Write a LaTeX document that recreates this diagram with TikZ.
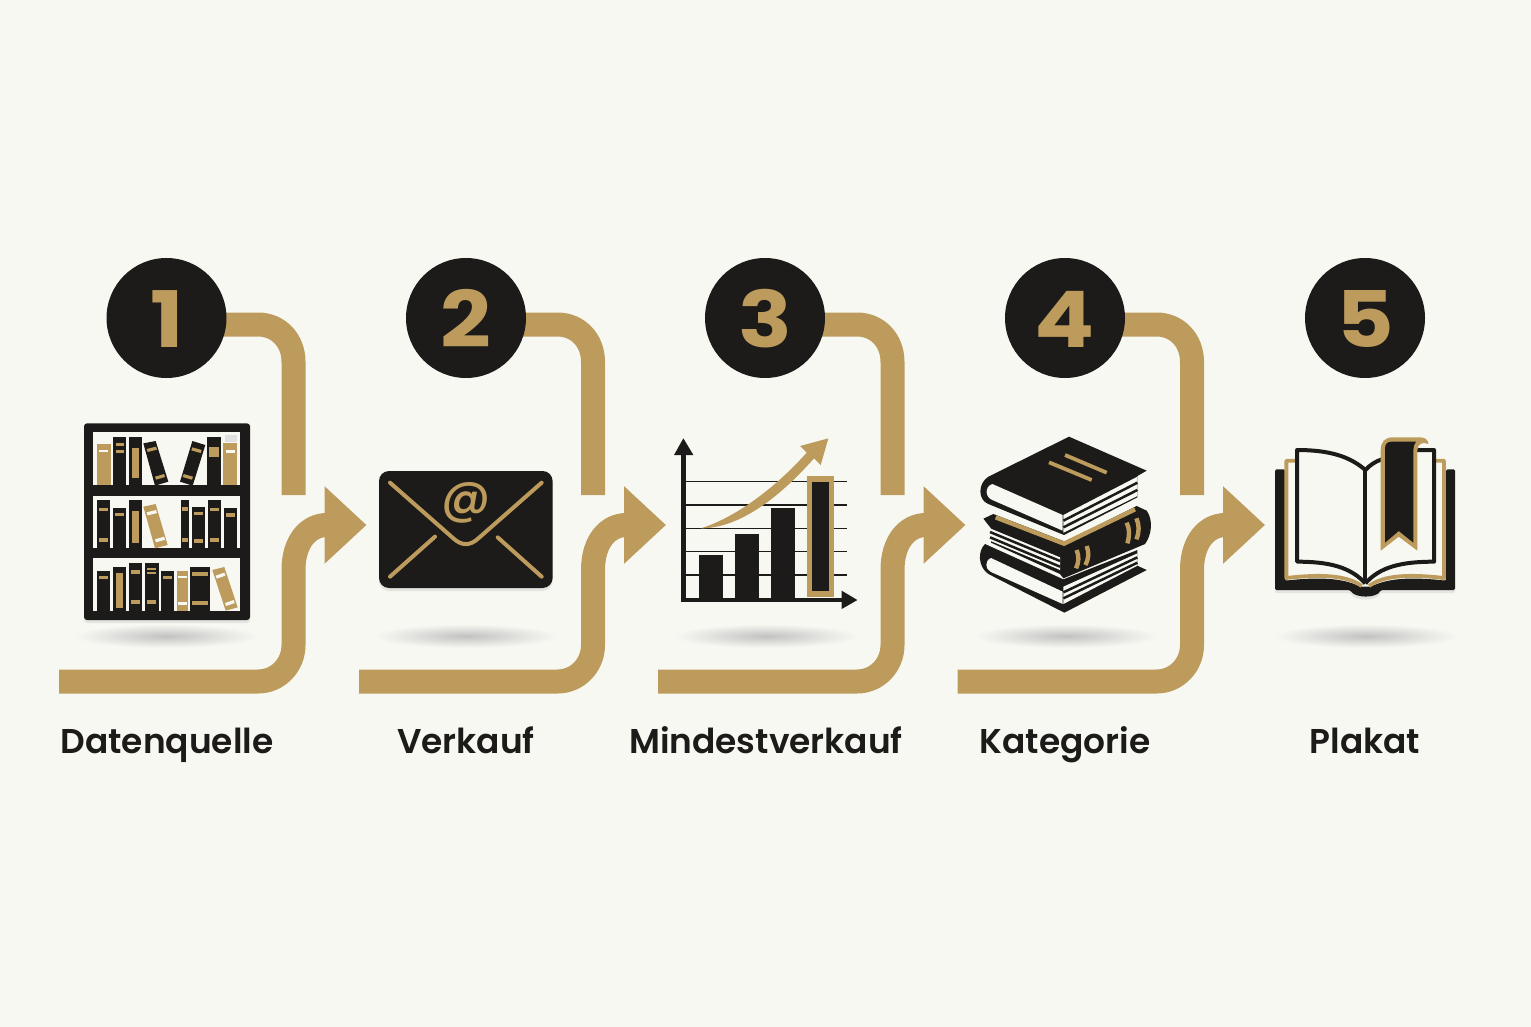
\documentclass[tikz,border=0pt]{standalone}
\usepackage{fontspec}
\setmainfont{Poppins}
\newfontfamily\labelfont{Poppins SemiBold}
\newfontfamily\atfont{Poppins Medium}
\newfontfamily\numfont[FakeStretch=1.14]{Poppins}
\usetikzlibrary{arrows.meta,backgrounds,shadows}
\definecolor{ink}{RGB}{28,27,25}
\definecolor{gold}{RGB}{189,155,92}
\definecolor{paper}{RGB}{248,248,243}
\begin{document}
\begin{tikzpicture}[x=.5pt,y=-.5pt,
  numdisc/.style={circle,fill=ink,text=gold,minimum size=60pt,inner sep=0pt},
  numtext/.style={inner sep=0pt,anchor=base,text=gold,font=\numfont\bfseries\fontsize{39}{39}\selectfont},
  steplabel/.style={inner sep=0pt,anchor=base,text=ink,font=\labelfont\fontsize{17.2}{17.2}\selectfont},
  softshadow/.style={drop shadow={opacity=.16,shadow xshift=0pt,shadow yshift=-1.5pt}},
  groundshade/.style={inner color=black!24,outer color=paper},
  flowline/.style={draw=gold,line width=12pt},
  flowhead/.style={flowline,-{Triangle[length=21pt,width=37.5pt]}},
  pageline/.style={draw=ink,line width=2pt,line join=round},
  edgeline/.style={draw=ink,line width=1.25pt},
  flapline/.style={draw=gold,line width=2pt,line cap=round,line join=round},
  zoomed/.style={x=.16667pt,y=-.16667pt,shift={(#1)}}]
\useasboundingbox (0,0) rectangle (1531,1027);

\node [numdisc] (num1) at (166.5,318) {};
\node [numdisc] (num2) at (466,318) {};
\node [numdisc] (num3) at (765,318) {};
\node [numdisc] (num4) at (1065,318) {};
\node [numdisc] (num5) at (1365,318) {};
\node [numtext] (digit1) at (167,347) {1};
\node [numtext] (digit2) at (466,347) {2};
\node [numtext] (digit3) at (765,347) {3};
\node [numtext] (digit4) at (1065,347) {4};
\node [numtext] (digit5) at (1365,347) {5};

\node [steplabel] (label1) at (167,753) {Datenquelle};
\node [steplabel] (label2) at (466,753) {Verkauf};
\node [steplabel] (label3) at (766,753) {Mindestverkauf};
\node [steplabel] (label4) at (1065,753) {Kategorie};
\node [steplabel] (label5) at (1365,753) {Plakat};

\coordinate (drop1) at (293.5,495);
\coordinate (drop2) at (593,495);
\coordinate (drop3) at (892.5,495);
\coordinate (drop4) at (1192,495);
\coordinate (rise1) at (59,681.5);
\coordinate (rise2) at (359,681.5);
\coordinate (rise3) at (658,681.5);
\coordinate (rise4) at (957.5,681.5);
\coordinate (tip1) at (366.5,525);
\coordinate (tip2) at (666,525);
\coordinate (tip3) at (965.5,525);
\coordinate (tip4) at (1265,525);

\begin{scope}[on background layer]
\fill[paper] (0,0) rectangle (1531,1027);

\draw[flowline] ([yshift=-3.25pt]num1.center) -- (258,324.5) .. controls (278,324.5) and (293.5,340) .. (293.5,362) -- (drop1);
\draw[flowline] ([yshift=-3.25pt]num2.center) -- (557.5,324.5) .. controls (577.5,324.5) and (593,340) .. (593,362) -- (drop2);
\draw[flowline] ([yshift=-3.25pt]num3.center) -- (857,324.5) .. controls (877,324.5) and (892.5,340) .. (892.5,362) -- (drop3);
\draw[flowline] ([yshift=-3.25pt]num4.center) -- (1156.5,324.5) .. controls (1176.5,324.5) and (1192,340) .. (1192,362) -- (drop4);

\draw[flowhead] (rise1) -- (258,681.5) .. controls (278,681.5) and (293.5,665) .. (293.5,645) -- (293.5,570) .. controls (293.5,542) and (308,525) .. (tip1);
\draw[flowhead] (rise2) -- (557.5,681.5) .. controls (577.5,681.5) and (593,665) .. (593,645) -- (593,570) .. controls (593,542) and (607.5,525) .. (tip2);
\draw[flowhead] (rise3) -- (857,681.5) .. controls (877,681.5) and (892.5,665) .. (892.5,645) -- (892.5,570) .. controls (892.5,542) and (907,525) .. (tip3);
\draw[flowhead] (rise4) -- (1156.5,681.5) .. controls (1176.5,681.5) and (1192,665) .. (1192,645) -- (1192,570) .. controls (1192,542) and (1206.5,525) .. (tip4);
\end{scope}

\shade[groundshade] (166,636) ellipse (92 and 12);
\shade[groundshade] (466,636) ellipse (92 and 12);
\shade[groundshade] (766,636) ellipse (92 and 12);
\shade[groundshade] (1066,636) ellipse (92 and 12);
\shade[groundshade] (1366,636) ellipse (92 and 12);

% bookshelf
\begin{scope}[zoomed={180,1200}]
\fill[ink,rounded corners=1.5pt,softshadow] (72,70) rectangle (570,660);
\fill[paper] (100,97) rectangle (541,256);
\fill[paper] (100,287) rectangle (541,445);
\fill[paper] (100,475) rectangle (541,634);

\fill[black!12] (495,105) rectangle (530,125);
\fill[gold] (110,133) rectangle (152,256);
\fill[paper] (118,150) rectangle (145,157);
\fill[ink] (160,112) rectangle (198,256);
\fill[gold] (167,130) rectangle (191,138);
\fill[gold] (167,150) rectangle (191,160);
\fill[ink] (206,112) rectangle (245,256);
\fill[gold] (216,145) rectangle (236,235);
\fill[ink] (250,130) -- (287,123) -- (325,245) -- (285,257) -- cycle;
\fill[gold] (260,147) -- (288,140) -- (291,149) -- (263,156) -- cycle;
\fill[gold] (285,230) -- (312,222) -- (315,231) -- (288,239) -- cycle;
\fill[ink] (397,123) -- (436,135) -- (398,257) -- (360,245) -- cycle;
\fill[gold] (397,142) -- (425,150) -- (422,159) -- (394,151) -- cycle;
\fill[gold] (371,222) -- (399,230) -- (396,239) -- (368,231) -- cycle;
\fill[ink] (440,112) rectangle (484,256);
\fill[gold] (448,142) rectangle (476,172);
\fill[gold] (490,130) rectangle (532,256);
\fill[paper] (498,150) rectangle (525,158);

\fill[ink] (112,300) rectangle (150,445);
\fill[gold] (117,323) rectangle (145,333);
\fill[gold] (117,413) rectangle (145,425);
\fill[ink] (158,323) rectangle (198,445);
\fill[gold] (165,338) rectangle (192,348);
\fill[ink] (206,300) rectangle (245,445);
\fill[gold] (216,333) rectangle (236,428);
\fill[gold] (250,320) -- (287,312) -- (323,435) -- (285,445) -- cycle;
\fill[paper] (260,337) -- (288,330) -- (291,339) -- (263,346) -- cycle;
\fill[paper] (285,418) -- (312,410) -- (315,419) -- (288,427) -- cycle;
\fill[ink] (363,300) rectangle (386,445);
\fill[gold] (366,322) rectangle (384,332);
\fill[gold] (366,415) rectangle (384,425);
\fill[ink] (395,322) rectangle (435,445);
\fill[gold] (402,336) rectangle (430,346);
\fill[gold] (402,417) rectangle (430,428);
\fill[ink] (443,300) rectangle (484,445);
\fill[gold] (449,323) rectangle (478,334);
\fill[gold] (449,413) rectangle (478,425);
\fill[ink] (491,325) rectangle (532,445);
\fill[gold] (498,340) rectangle (525,350);

\fill[ink] (112,513) rectangle (150,634);
\fill[gold] (118,528) rectangle (145,538);
\fill[ink] (158,501) rectangle (198,634);
\fill[gold] (168,520) rectangle (188,625);
\fill[ink] (206,488) rectangle (246,634);
\fill[gold] (212,510) rectangle (240,522);
\fill[gold] (212,601) rectangle (240,613);
\fill[ink] (254,488) rectangle (296,634);
\fill[gold] (260,503) rectangle (288,510);
\fill[gold] (260,516) rectangle (288,523);
\fill[gold] (260,600) rectangle (288,612);
\fill[ink] (304,513) rectangle (342,634);
\fill[gold] (310,527) rectangle (337,537);
\fill[gold] (350,512) rectangle (384,634);
\fill[paper] (354,527) rectangle (380,535);
\fill[paper] (354,606) rectangle (380,614);
\fill[ink] (389,500) rectangle (450,634);
\fill[gold] (396,516) rectangle (443,527);
\fill[gold] (396,604) rectangle (443,615);
\fill[gold] (457,510) -- (493,501) -- (533,622) -- (497,632) -- cycle;
\fill[paper] (467,527) -- (493,518) -- (496,527) -- (470,536) -- cycle;
\fill[paper] (495,609) -- (521,600) -- (524,609) -- (498,618) -- cycle;
\end{scope}

% envelope
\node [fill=ink,rounded corners=5pt,minimum width=86.8pt,minimum height=58.5pt,inner sep=0pt,softshadow] (mail) at (465.8,529.5) {};
\node [inner sep=0pt,text=gold,font=\atfont\fontsize{24}{24}\selectfont] (atsign) at (466.5,503) {@};
\begin{scope}[zoomed={1110,1380}]
\draw[flapline] (60,68) -- (250,235) .. controls (275,258) and (300,258) .. (325,235) -- (515,68);
\draw[flapline] (60,350) -- (195,230);
\draw[flapline] (383,232) -- (515,350);
\end{scope}

% chart
\begin{scope}[zoomed={1980,1260}]
\foreach \gridy in {185,255,325,395,465}
  \draw[ink,line width=.75pt] (77,\gridy) -- (560,\gridy);
\fill[ink] (118,405) rectangle (190,535);
\fill[ink] (226,343) rectangle (298,535);
\fill[ink] (334,264) rectangle (406,535);
\fill[gold] (440,168) rectangle (522,530);
\fill[ink] (456,186) rectangle (507,514);
\fill[ink] (63,100) rectangle (77,547);
\fill[ink] (63,534) rectangle (545,547);
\fill[ink] (70,55) -- (100,105) -- (42,105) -- cycle;
\fill[ink] (592,540) -- (545,567) -- (545,512) -- cycle;
\fill[gold] (122,325) .. controls (220,295) and (340,210) .. (440,98) -- (420,78) -- (505,55) -- (482,135) -- (462,115) .. controls (360,230) and (240,325) .. cycle;
\end{scope}

% stacked books
\begin{scope}[zoomed={2895,1260}]
\fill[ink] (60,372) .. controls (38,392) and (38,440) .. (70,462) -- (298,578) -- (545,450) -- (517,437) -- (517,390) -- (295,478) -- cycle;
\fill[paper] (78,414) .. controls (58,422) and (60,448) .. (78,456) -- (293,552) -- (293,515) -- cycle;
\fill[paper] (295,500) -- (517,400) -- (517,437) -- (295,552) -- cycle;
\draw[edgeline] (295,517) -- (517,412);
\draw[edgeline] (295,535) -- (517,428);

\fill[ink] (55,296) -- (85,282) -- (300,365) -- (515,258) -- (545,272) .. controls (565,300) and (560,345) .. (540,372) -- (295,475) -- (285,462) -- (78,368) -- (78,325) -- cycle;
\fill[paper] (75,325) -- (285,412) -- (285,450) -- (75,362) -- cycle;
\draw[edgeline] (75,336) -- (285,423);
\draw[edgeline] (75,352) -- (285,440);
\draw[gold,line width=2.2pt] (92,292) -- (297,371) -- (510,268);
\draw[gold,line width=2.2pt] (335,390) .. controls (342,410) and (342,425) .. (333,445);
\draw[gold,line width=2.2pt] (365,378) .. controls (372,398) and (372,413) .. (361,435);
\draw[gold,line width=2.2pt] (485,308) .. controls (494,328) and (494,345) .. (487,370);
\draw[gold,line width=2.2pt] (514,295) .. controls (523,315) and (523,335) .. (514,358);

\fill[ink] (312,50) -- (545,152) -- (517,168) -- (517,232) -- (297,345) -- (70,252) .. controls (38,240) and (38,190) .. (70,170) -- cycle;
\fill[paper] (82,192) .. controls (58,200) and (60,232) .. (82,240) -- (293,332) -- (293,285) -- cycle;
\fill[paper] (295,285) -- (517,170) -- (517,228) -- (295,338) -- cycle;
\draw[edgeline] (295,302) -- (517,188);
\draw[edgeline] (295,322) -- (517,210);
\draw[gold,line width=1.9pt] (300,105) -- (425,158);
\draw[gold,line width=1.9pt] (252,127) -- (380,180);
\end{scope}

% open book
\begin{scope}[zoomed={3780,1260}]
\fill[ink,rounded corners=.7pt,softshadow] (45,148) -- (75,148) -- (75,482) .. controls (180,470) and (250,475) .. (300,500) -- (332,500) .. controls (385,475) and (450,470) .. (558,482) -- (558,148) -- (585,148) -- (585,510) -- (362,510) .. controls (350,535) and (285,535) .. (270,510) -- (45,510) -- cycle;
\draw[gold,line width=1.9pt,line join=round] (105,122) -- (79,122) -- (79,474) .. controls (180,462) and (260,465) .. (305,498);
\draw[gold,line width=1.9pt,line join=round] (525,122) -- (552,122) -- (552,474) .. controls (450,462) and (370,465) .. (327,498);
\draw[pageline] (316,150) .. controls (270,110) and (210,90) .. (111,90) -- (111,425) .. controls (205,425) and (270,440) .. (316,490);
\draw[pageline] (316,150) .. controls (330,135) and (345,125) .. (365,118);
\draw[pageline] (470,90) -- (522,90) -- (522,425) .. controls (425,425) and (360,440) .. (316,490);
\draw[pageline] (316,150) -- (316,490);
\fill[gold] (362,392) -- (362,90) .. controls (362,65) and (375,52) .. (398,52) -- (480,52) .. controls (495,52) and (505,60) .. (505,72) .. controls (490,65) and (472,70) .. (472,90) -- (472,392) -- (416,350) -- cycle;
\fill[ink] (375,368) -- (375,85) .. controls (375,72) and (382,65) .. (395,65) -- (468,65) .. controls (462,72) and (460,80) .. (460,90) -- (460,368) -- (416,333) -- cycle;
\end{scope}
\end{tikzpicture}
\end{document}
